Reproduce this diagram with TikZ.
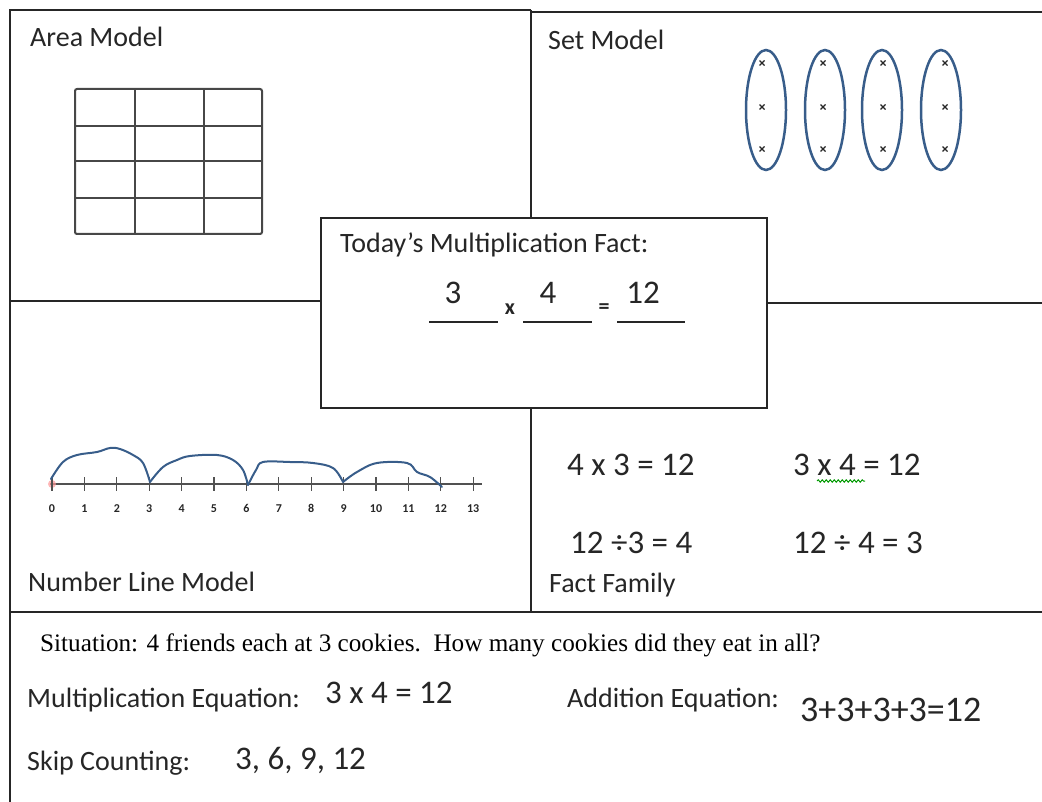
\documentclass[tikz,border=0pt]{standalone}
\usepackage{fontspec}
\setmainfont{Liberation Serif}
\newfontfamily\calfont{Carlito}
\usetikzlibrary{decorations.pathmorphing}
\definecolor{setblue}{HTML}{385D8A}
\definecolor{ln}{HTML}{262626}
\definecolor{txt}{HTML}{262626}
\begin{document}
\begin{tikzpicture}[x=1pt,y=-1pt,
  border/.style={line width=2pt, draw=ln},
  gridline/.style={line width=2pt, draw=ln!85},
  lbl/.style={anchor=west, inner sep=0pt, text=txt, font=\calfont\fontsize{28}{30}\selectfont},
  eqn/.style={anchor=west, inner sep=0pt, text=txt, font=\calfont\fontsize{33}{36}\selectfont},
  small/.style={inner sep=0pt, text=txt, font=\calfont\bfseries\fontsize{12}{12}\selectfont},
  cross/.style={line width=1.3pt, draw=ln},
  setring/.style={draw=setblue, line width=2.5pt},
  jump/.style={draw=setblue, line width=2pt, line cap=round, line join=round},
  blank/.style={line width=1.6pt, draw=ln}]
\useasboundingbox (0,0) rectangle (1042,802);
% frame
\draw[border] (10,802) -- (10,10) -- (531,10);
\draw[border] (531,12) -- (1042,12);
\draw[border] (531,10) -- (531,612);
\draw[border] (10,301) -- (320,301);
\draw[border] (766,303) -- (1042,303);
\draw[border] (10,612) -- (1042,612);
% center box
\node (factbox) [draw=ln, line width=2pt, fill=white, minimum width=446pt, minimum height=190pt, anchor=north west, inner sep=0pt] at (320,217) {};
% labels
\node (area) [lbl] at (30,37) {Area Model};
\node (setm) [lbl] at (548,40) {Set Model};
\node (today) [lbl] at (340,245) {Today’s Multiplication Fact:};
\node (nlm) [lbl] at (28,582) {Number Line Model};
\node (ff) [lbl] at (549,585) {Fact Family};
% today's fact
\draw[blank] (429,322) -- (498,322);
\draw[blank] (523,322) -- (592,322);
\draw[blank] (617,322) -- (685,322);
\node (fa) [eqn, anchor=center] at (453,293) {3};
\node (fb) [eqn, anchor=center] at (548,293) {4};
\node (fc) [eqn, anchor=center] at (643,293) {12};
\node (fx) [lbl, anchor=center, font=\calfont\bfseries\fontsize{22}{24}\selectfont] at (510,309) {x};
\node (fe) [lbl, anchor=center, font=\calfont\bfseries\fontsize{22}{24}\selectfont] at (604,309) {=};
% area model grid
\draw[gridline, rounded corners=2pt] (75,89) rectangle (262,234);
\foreach \x in {135,204} \draw[gridline] (\x,89) -- (\x,234);
\foreach \y in {126,161,198} \draw[gridline] (75,\y) -- (262,\y);
% set model
\foreach \cx/\px in {766/762, 825/823, 882/883, 941/945}{
  \draw[setring] (\cx,110) ellipse [x radius=20pt, y radius=60pt];
  \foreach \py in {63,107,149}
    \draw[cross] (\px-2.5,\py-2.5) -- (\px+2.5,\py+2.5) (\px-2.5,\py+2.5) -- (\px+2.5,\py-2.5);
}
% number line
\draw[line width=1.5pt, draw=ln!80] (50,484) -- (482,484);
\fill[red!40, opacity=0.7] (52,484) circle (4pt);
\foreach \i in {0,...,13}{
  \pgfmathsetmacro\xx{52+32.4*\i}
  \draw[line width=1.3pt, draw=ln!80] (\xx,477) -- (\xx,491);
  \node[small, anchor=base] at (\xx,512) {\i};
}
\draw[jump] plot[smooth, tension=0.6] coordinates {(51,479) (63,462) (77,455) (97,452) (110,448) (120,449) (133,455) (143,463) (150,482)};
\draw[jump] plot[smooth, tension=0.6] coordinates {(150,482) (163,467) (177,460) (190,456) (217,455) (233,460) (243,470) (248,485)};
\draw[jump] plot[smooth, tension=0.6] coordinates {(248,485) (256,470) (263,462) (290,462) (313,463) (333,468) (343,482)};
\draw[jump] plot[smooth, tension=0.6] coordinates {(343,482) (357,472) (377,463) (407,463) (417,472) (430,477) (442,487)};
% fact family
\node (f1) [eqn] at (567,465) {4 x 3 = 12};
\node (f2) [eqn] at (793,465) {3 x 4 = 12};
\node (f3) [eqn] at (570,543) {12 ÷3 = 4};
\node (f4) [eqn] at (793,543) {12 ÷ 4 = 3};
\draw[green!60!black, line width=1pt, decorate, decoration={snake, amplitude=1.2pt, segment length=4pt}] (817,481) -- (865,481);
% bottom
\node (sit) [anchor=west, inner sep=0pt, text=black, font=\fontsize{25.2}{27}\selectfont] at (40,645) {Situation: 4 friends each at 3 cookies.\ \ How many cookies did they eat in all?};
\node (meq) [lbl] at (27,700) {Multiplication Equation:};
\node (meqv) [eqn] at (325,693) {3 x 4 = 12};
\node (aeq) [lbl] at (567,700) {Addition Equation:};
\node (aeqv) [eqn, font=\calfont\fontsize{36}{38}\selectfont] at (800,710) {3+3+3+3=12};
\node (skip) [lbl] at (27,763) {Skip Counting:};
\node (skipv) [eqn] at (235,760) {3, 6, 9, 12};
\end{tikzpicture}
\end{document}
